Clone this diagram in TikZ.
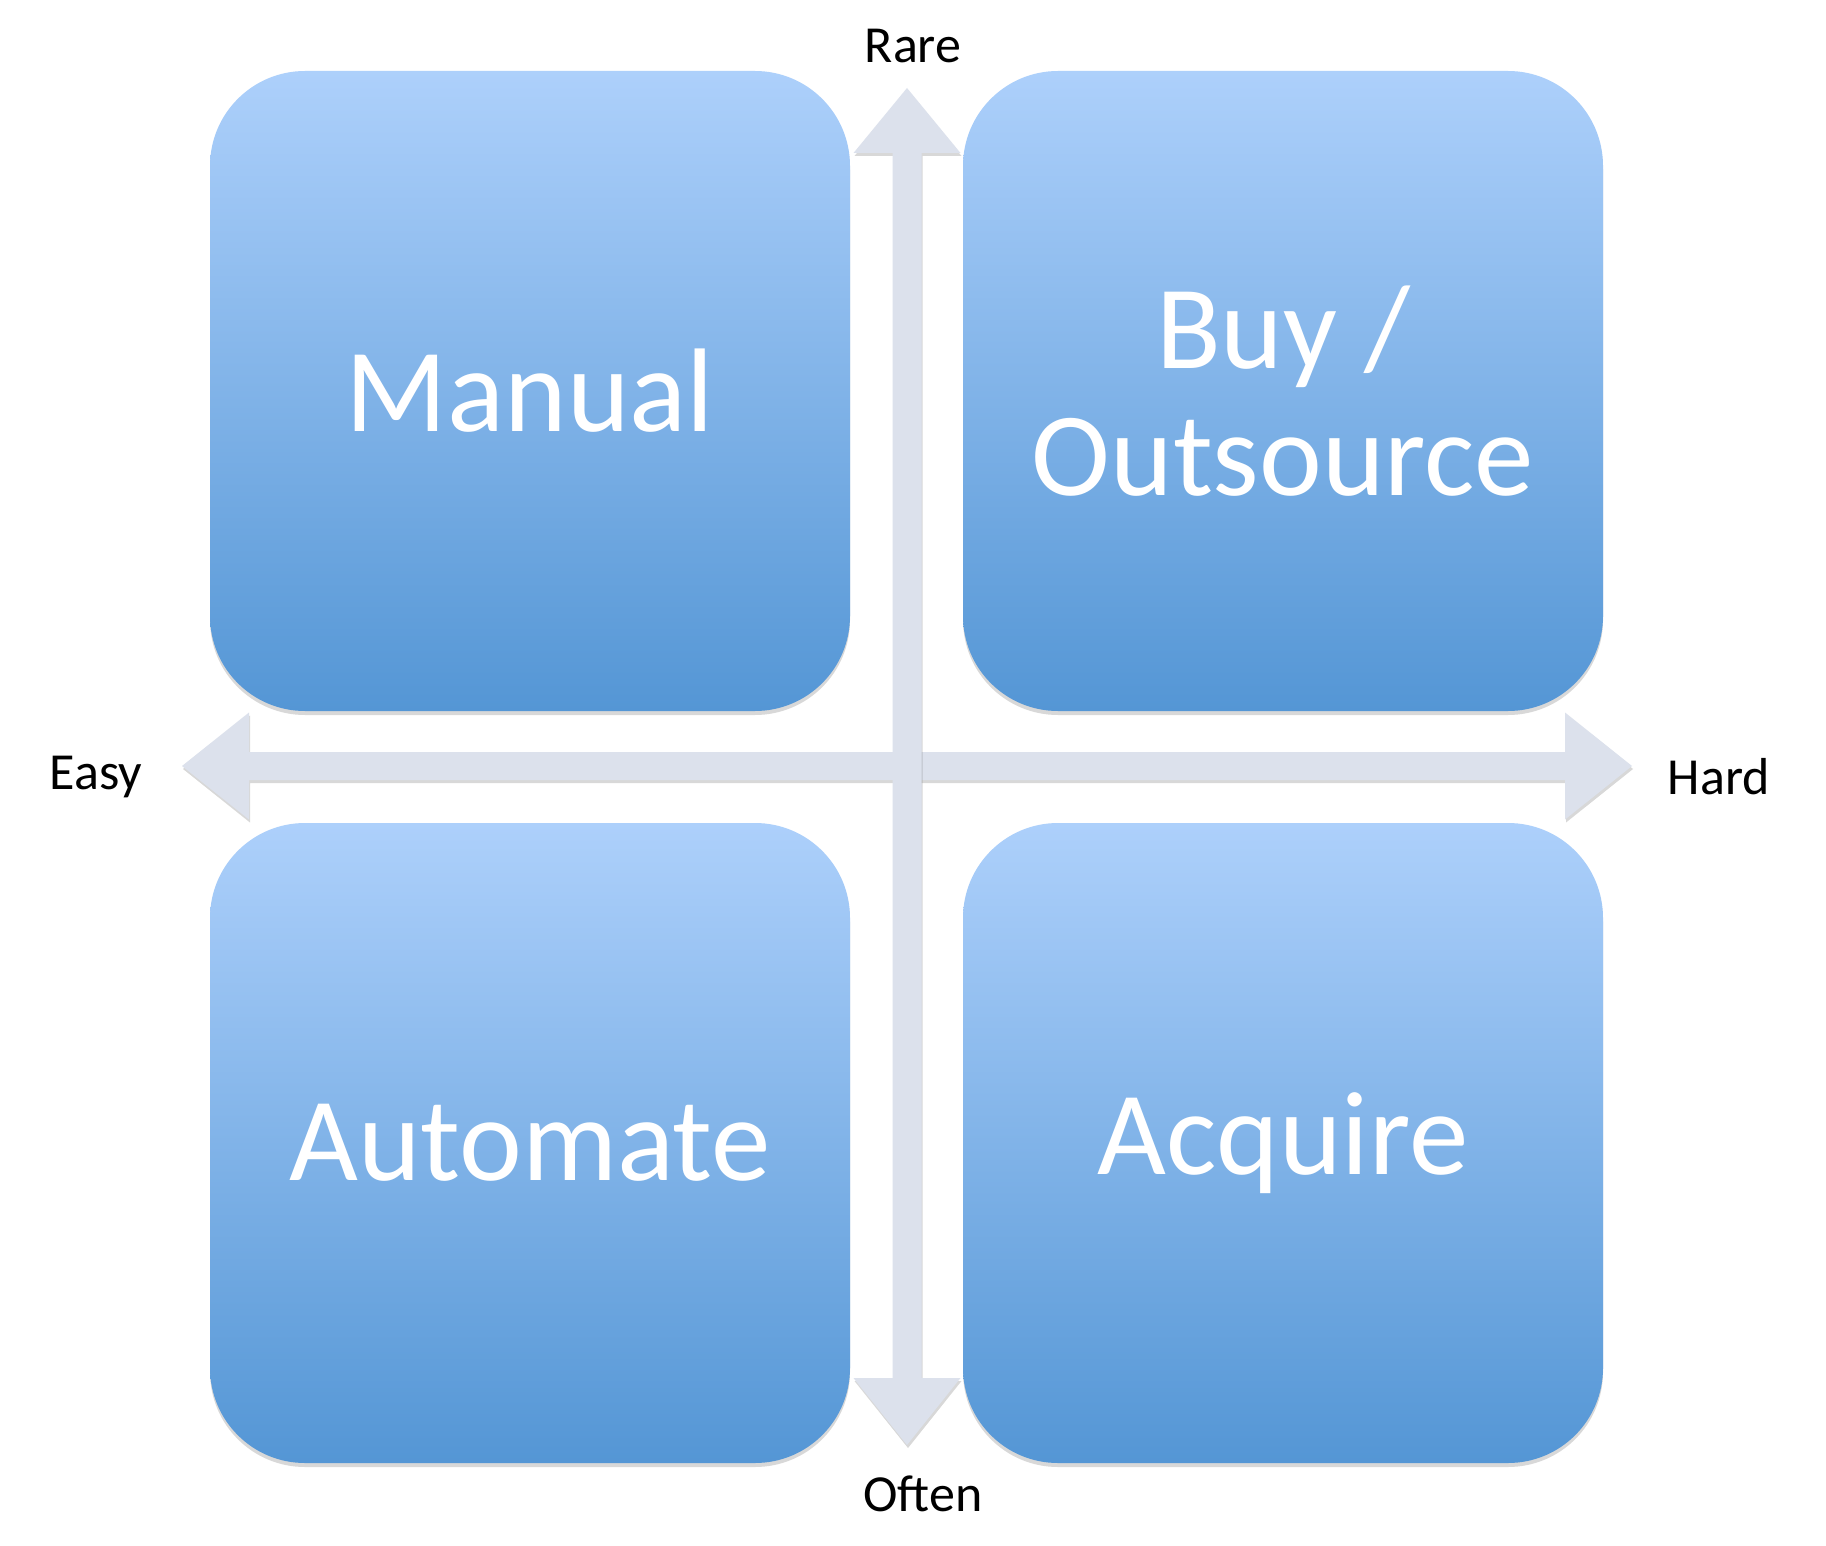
\documentclass[tikz,border=0pt]{standalone}
\usepackage{fontspec}
\setmainfont{Carlito}
\usetikzlibrary{shadows}
\definecolor{boxtop}{HTML}{ADD0FB}
\definecolor{boxbot}{HTML}{5496D5}
\definecolor{axisfill}{HTML}{DCE1EC}
\tikzset{
  quadbox/.style={rounded corners=95pt, minimum width=640pt, minimum height=640pt,
    top color=boxtop, bottom color=boxbot, draw=none, text=white, align=center,
    font=\fontsize{119}{127}\selectfont,
    drop shadow={shadow xshift=0pt, shadow yshift=-4pt, opacity=0.25, fill=black!60}},
  axislabel/.style={font=\fontsize{52}{60}\selectfont, text=black},
  axisarrow/.style={fill=axisfill, draw=none,
    drop shadow={shadow xshift=1pt, shadow yshift=-3pt, opacity=0.25, fill=black!60}}
}
\begin{document}
\begin{tikzpicture}[x=1pt, y=-1pt]
\useasboundingbox[fill=white] (0,0) rectangle (1826,1546);
% axis coordinates
\coordinate (top) at (907,88);
\coordinate (bottom) at (907,1445);
\coordinate (left) at (182,766);
\coordinate (right) at (1632,766);
% horizontal arrow
\path[axisarrow] (left) -- (249,712.5) -- (249,752) -- (1565,752) -- (1565,712.5)
  -- (right) -- (1565,819.5) -- (1565,780) -- (249,780) -- (249,819.5) -- cycle;
% vertical arrow
\path[axisarrow] (top) -- (960.5,153) -- (921.5,153) -- (921.5,1378) -- (960.5,1378)
  -- (bottom) -- (853.5,1378) -- (892.5,1378) -- (892.5,153) -- (853.5,153) -- cycle;
% boxes
\node[quadbox] (manual) at (530,391) {Manual};
\node[quadbox] (buy) at (1283,391) {Buy /\\Outsource};
\node[quadbox] (automate) at (530,1143) {Automate};
\node[quadbox] (acquire) at (1283,1143) {Acquire};
% labels
\node[axislabel] (rare) at (913,46) {Rare};
\node[axislabel] (often) at (923,1494) {Often};
\node[axislabel] (easy) at (96,777) {Easy};
\node[axislabel] (hard) at (1719,777) {Hard};
\end{tikzpicture}
\end{document}
